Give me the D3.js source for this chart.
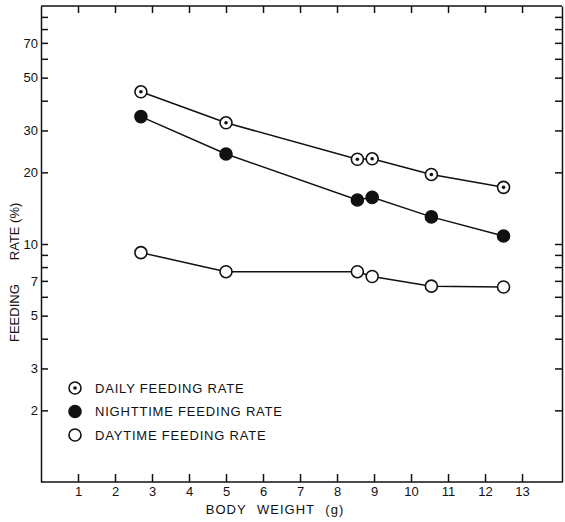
<!DOCTYPE html>
<html>
<head>
<meta charset="utf-8">
<script src="https://cdn.jsdelivr.net/npm/d3@7"></script>
<style>
	body { margin: 0; background: #fff; }
	svg { display: block; }
	text { font-family: "Liberation Sans", Arial, sans-serif; fill: #111; }
	.axis path, .axis line { stroke: #111; stroke-width: 1.5; }
	.axis text { font-size: 13px; }
</style>
</head>
<body>
<svg id="chart" width="565" height="522"></svg>
<script>
// body weight (g) for each sample
var weights = [2.7, 5.0, 8.55, 8.95, 10.55, 12.5];
// feeding rates (% body weight)
var dailyRate = [43.6, 32.3, 22.7, 22.8, 19.6, 17.3];
var nightRate = [34.3, 23.9, 15.3, 15.7, 13.0, 10.8];
var dayRate = [9.2, 7.65, 7.65, 7.3, 6.65, 6.6];

var xTicks = d3.range(1, 14);
var yTicks = [2, 3, 4, 5, 6, 7, 8, 9, 10, 20, 30, 40, 50, 60, 70, 80, 90];
var yLabels = [2, 3, 5, 7, 10, 20, 30, 50, 70];

var seriesNames = ['DAILY FEEDING RATE', 'NIGHTTIME FEEDING RATE', 'DAYTIME FEEDING RATE'];
var seriesKinds = ['dot', 'filled', 'open'];

// note: "top" is taken by window.top, so prefix these
var plotLeft = 41, plotRight = 562, plotTop = 6, plotBottom = 482;

var svg = d3.select('#chart');

var x = d3.scaleLinear().domain([0, 14.08]).range([plotLeft, plotRight]);
var y = d3.scaleLog().domain([1, 100]).range([plotBottom, plotTop]);

// frame: four axes, ticks pointing inwards
svg.append('g').attr('class', 'axis')
	.attr('transform', 'translate(0,' + plotBottom + ')')
	.call(d3.axisBottom(x).tickValues(xTicks).tickSizeInner(-8).tickSizeOuter(0).tickPadding(5))
	.call(g => g.select('.domain').attr('d', 'M' + plotLeft + ',0H' + plotRight));

svg.append('g').attr('class', 'axis')
	.attr('transform', 'translate(0,' + plotTop + ')')
	.call(d3.axisTop(x).tickValues(xTicks).tickSizeInner(-7).tickSizeOuter(0).tickFormat(''))
	.call(g => g.select('.domain').attr('d', 'M' + plotLeft + ',0H' + plotRight));

svg.append('g').attr('class', 'axis')
	.attr('transform', 'translate(' + plotLeft + ',0)')
	.call(d3.axisLeft(y).tickValues(yTicks).tickSizeInner(-7).tickSizeOuter(0).tickPadding(3)
		.tickFormat(d => yLabels.indexOf(d) >= 0 ? d : ''));

svg.append('g').attr('class', 'axis')
	.attr('transform', 'translate(' + plotRight + ',0)')
	.call(d3.axisRight(y).tickValues(yTicks).tickSizeInner(-7).tickSizeOuter(0).tickFormat(''));

svg.selectAll('.axis text').attr('font-family', null).attr('font-size', null);

// axis titles
svg.append('text')
	.attr('x', 275).attr('y', 514)
	.attr('text-anchor', 'middle')
	.style('font-size', '13px')
	.style('letter-spacing', '1px')
	.style('word-spacing', '6px')
	.text('BODY WEIGHT (g)');

var yTitle = svg.append('text')
	.attr('transform', 'translate(19,342) rotate(-90)')
	.style('font-size', '13px');
yTitle.append('tspan').text('FEEDING');
yTitle.append('tspan').attr('dx', 24).text('RATE (%)');

// series
var series = [dailyRate, nightRate, dayRate].map((vals, i) => ({
	name: seriesNames[i],
	kind: seriesKinds[i],
	points: weights.map((w, j) => ({ w: w, r: vals[j] }))
}));

var line = d3.line().x(d => x(d.w)).y(d => y(d.r));

svg.selectAll('.series-line').data(series).enter()
	.append('path')
	.attr('class', 'series-line')
	.attr('d', d => line(d.points))
	.attr('fill', 'none')
	.attr('stroke', '#111')
	.attr('stroke-width', 1.5);

function drawMarker(g, kind) {
	g.append('circle')
		.attr('r', 6)
		.attr('fill', kind == 'filled' ? '#111' : '#fff')
		.attr('stroke', '#111')
		.attr('stroke-width', 1.6);
	if (kind == 'dot') {
		g.append('circle').attr('r', 1.8).attr('fill', '#111');
	}
}

series.forEach(s => {
	svg.selectAll(null).data(s.points).enter()
		.append('g')
		.attr('transform', d => 'translate(' + x(d.w) + ',' + y(d.r) + ')')
		.each(function() { drawMarker(d3.select(this), s.kind); });
});

// legend
var legend = svg.append('g').attr('transform', 'translate(75,388)');
series.forEach((s, i) => {
	var row = legend.append('g').attr('transform', 'translate(0,' + (i * 23.5) + ')');
	drawMarker(row.append('g'), s.kind);
	row.append('text')
		.attr('x', 20).attr('dy', '0.36em')
		.style('font-size', '13px')
		.style('letter-spacing', '0.8px')
		.text(s.name);
});
</script>
</body>
</html>
